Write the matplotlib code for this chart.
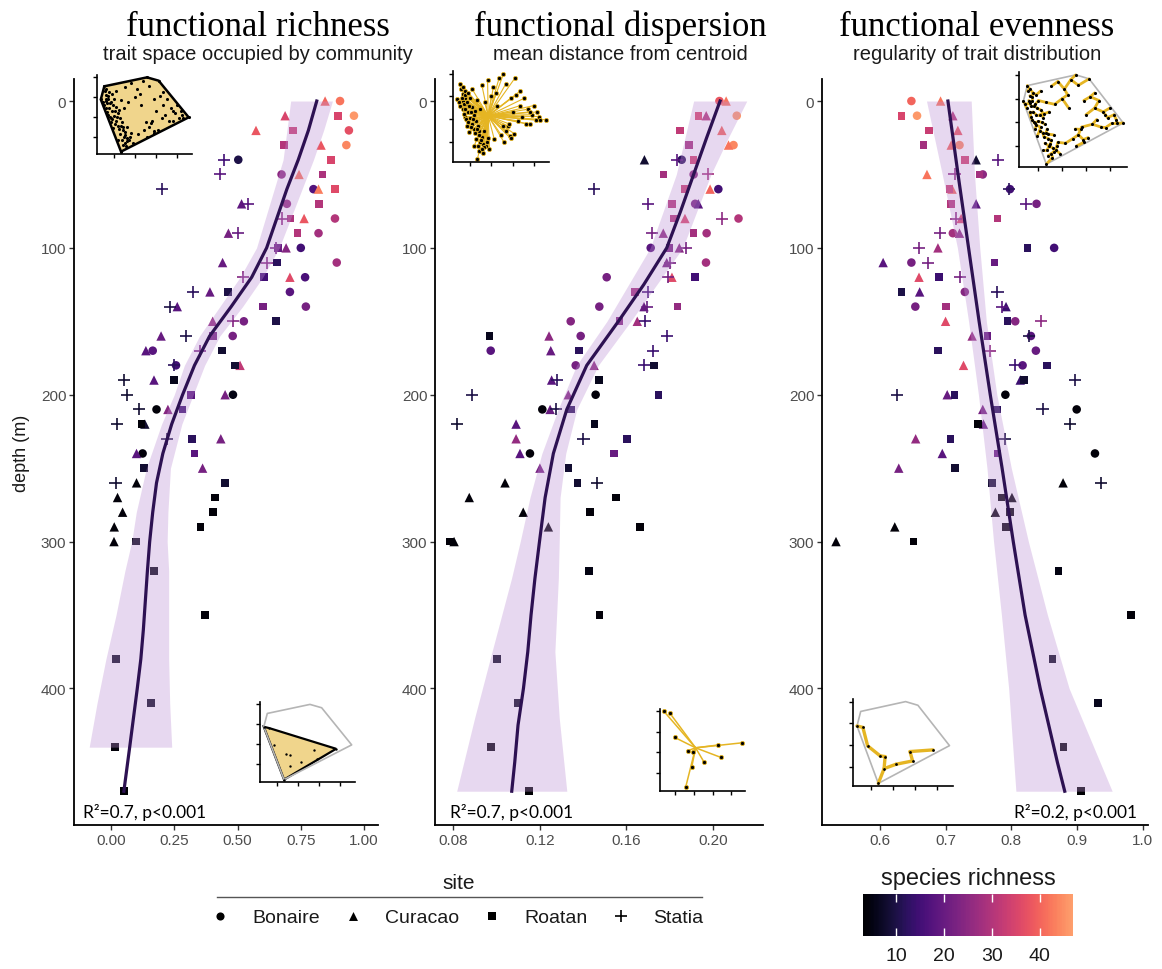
import numpy as np
import matplotlib
matplotlib.use("Agg")
import matplotlib.pyplot as plt
from matplotlib.colors import ListedColormap, Normalize
from matplotlib.cm import ScalarMappable

plt.rcParams["font.family"] = ["Liberation Sans", "DejaVu Sans"]

# ---------------- survey data ----------------
# one row per sampled depth (m); each row lists the sites sampled there
depth_rows = [0, 10, 20, 30, 40, 50, 60, 70, 80, 90, 100, 110, 120, 130, 140,
              150, 160, 170, 180, 190, 200, 210, 220, 230, 240, 250, 260, 270,
              280, 290, 300, 320, 350, 380, 410, 440, 470]

# functional richness
fric_site = ["CB", "CRB", "CRB", "RCB", "SBR", "SBCR", "SBCR", "CSBR", "SRCB",
             "CSRB", "SRCB", "CSRB", "SRCB", "SCRB", "SCRB", "CSBR", "CSRB",
             "CBSR", "SBRC", "SCR", "SRCB", "SBCR", "SRC", "SRC", "CBR", "RC",
             "SCR", "CR", "CR", "CR", "CR", "R", "R", "R", "R", "R", "R"]
fric_val = [[.846, .905], [.688, .898, .960], [.573, .720, .940], [.684, .830, .930],
            [.448, .503, .870], [.431, .674, .743, .836], [.203, .800, .820, .885],
            [.516, .543, .695, .822], [.674, .710, .763, .885], [.464, .500, .737, .820],
            [.652, .660, .692, .750], [.441, .615, .655, .892], [.523, .604, .707, .767],
            [.325, .391, .463, .707], [.233, .262, .600, .770], [.402, .483, .525, .651],
            [.198, .296, .404, .481], [.138, .165, .352, .439], [.249, .257, .490, .510],
            [.053, .170, .249], [.065, .316, .451, .482], [.110, .180, .225, .283],
            [.025, .121, .134], [.220, .319, .434], [.101, .125, .330], [.130, .362],
            [.018, .101, .451], [.026, .411], [.046, .402], [.013, .354], [.012, .099],
            [.171], [.372], [.020], [.158], [.016], [.051]]
fric_rich = [[40, 42], [35, 35, 46], [38, 33, 37], [30, 38, 44], [15, 10, 35],
             [18, 25, 42, 29], [12, 17, 43, 36], [19, 18, 26, 30], [25, 29, 38, 30],
             [22, 20, 30, 28], [22, 20, 24, 15], [20, 24, 12, 28], [24, 15, 36, 16],
             [12, 20, 10, 18], [10, 18, 22, 22], [26, 24, 22, 10], [20, 10, 22, 22],
             [18, 18, 22, 8], [12, 15, 8, 32], [8, 18, 6], [8, 18, 22, 5], [8, 4, 24, 14],
             [8, 4, 8], [10, 12, 22], [18, 4, 18], [8, 22], [8, 4, 8], [4, 4], [4, 4],
             [4, 4], [4, 5], [5], [4], [6], [6], [4], [3]]

# functional dispersion
fdis_site = ["BC", "RCB", "RC", "RCB", "CSBR", "RBS", "SRCB", "SRBC", "RCSB",
             "SCRB", "BRCS", "CSB", "BSCR", "RS", "BCSR", "BRCS", "RCBS", "BCRS",
             "BCSR", "CSR", "SCBR", "BCSR", "SCR", "CSR", "CBR", "CR", "CRS", "CR",
             "CR", "CR", "RC", "R", "R", "R", "R", "R", "R"]
fdis_val = [[.2029, .2060], [.1932, .1968, .2109], [.1848, .2040], [.1888, .2071, .2094],
            [.1683, .1832, .1855, .1909], [.1771, .1910, .1978],
            [.1450, .1870, .1986, .2024], [.1701, .1809, .1917, .1932],
            [.1820, .1870, .2040, .2117], [.1717, .1770, .1910, .1970],
            [.1712, .1798, .1844, .1875], [.1786, .1801, .1967],
            [.1509, .1794, .1810, .1917], [.1640, .1700], [.1475, .1681, .1697, .1835],
            [.1343, .1568, .1650, .1686], [.0968, .1243, .1389, .1789],
            [.0974, .1251, .1381, .1722], [.1366, .1451, .1679, .1728],
            [.1255, .1278, .1474], [.0889, .1332, .1458, .1748],
            [.1212, .1248, .1275, .1343], [.0817, .1091, .1452], [.1091, .1402, .1602],
            [.1109, .1155, .1543], [.1201, .1332], [.1040, .1375, .1463], [.0875, .1551],
            [.1124, .1432], [.1240, .1663], [.0786, .0805], [.1428], [.1475], [.1002],
            [.1101], [.0974], [.1151]]
fdis_rich = [[38, 42], [35, 30, 46], [32, 40], [28, 42, 44], [8, 18, 12, 34], [28, 25, 28],
             [12, 33, 40, 15], [18, 30, 22, 18], [30, 35, 25, 30], [22, 25, 28, 28],
             [18, 22, 24, 22], [22, 22, 28], [22, 22, 36, 15], [28, 15], [22, 20, 20, 26],
             [24, 24, 28, 14], [6, 25, 22, 14], [18, 20, 12, 14], [22, 25, 14, 8],
             [18, 12, 6], [10, 24, 4, 12], [4, 20, 10, 12], [8, 18, 6], [26, 10, 12],
             [18, 4, 20], [22, 8], [4, 8, 8], [4, 4], [4, 4], [4, 4], [4, 4], [5], [4],
             [6], [6], [4], [3]]

# functional evenness
feve_site = ["BC", "RBC", "RC", "RCB", "RCS", "CSRB", "RCSB", "RCSB", "SCR", "SBC",
             "SCRB", "CBSR", "CRS", "RCBS", "BRSC", "CRBS", "CRSB", "RSB", "CSBR",
             "CRS", "SCRB", "CRSB", "RCS", "CRS", "CRB", "CR", "RCS", "RC", "CR",
             "CR", "CR", "R", "R", "R", "R", "R", "R"]
feve_val = [[.6480, .6924], [.6329, .6566, .7111], [.6747, .7187], [.6667, .7086, .7212],
            [.7298, .7465, .7803], [.6717, .7136, .7515, .7566],
            [.7061, .7100, .7960, .7980], [.7086, .7465, .8222, .8384],
            [.7152, .7237, .7793], [.6920, .7111, .7212], [.6596, .6884, .8247, .8652],
            [.6050, .6480, .6732, .7742], [.6596, .6900, .7222],
            [.6330, .6606, .7293, .7790], [.6540, .7010, .7859, .7920],
            [.7000, .7944, .8060, .8450], [.7404, .7640, .8263, .8298],
            [.6884, .7680, .8374], [.7273, .8056, .8172, .8540], [.8136, .8197, .8965],
            [.6268, .7025, .7136, .7910], [.7566, .7778, .8475, .8995],
            [.7490, .7576, .8890], [.6545, .7076, .7910], [.6950, .7793, .9273],
            [.6288, .7141], [.7702, .8788, .9369], [.7853, .8010], [.7758, .7980],
            [.6227, .7920], [.5333, .6515], [.8717], [.9820], [.8626], [.9323], [.8793],
            [.9056]]
feve_rich = [[40, 42], [35, 46, 30], [33, 38], [28, 40, 44], [34, 8, 18], [42, 25, 28, 25],
             [33, 40, 12, 15], [30, 18, 18, 22], [25, 35, 30], [22, 28, 25],
             [22, 28, 12, 15], [18, 22, 22, 20], [36, 14, 22], [10, 18, 24, 12],
             [22, 28, 18, 14], [36, 12, 24, 25], [26, 20, 10, 18], [12, 25, 20],
             [36, 14, 18, 12], [14, 8, 10], [10, 20, 12, 4], [22, 12, 10, 4], [4, 20, 8],
             [26, 12, 10], [18, 20, 4], [22, 8], [8, 4, 8], [4, 4], [4, 4], [4, 4], [4, 4],
             [5], [4], [6], [6], [4], [3]]

# smoothed fits (value along depth) and their confidence bands
fric_fit_depth = [0, 20, 40, 60, 80, 100, 120, 140, 160, 180, 200, 220, 240, 260,
                  280, 300, 320, 340, 360, 380, 400, 420, 440, 470]
fric_fit = [0.813, 0.780, 0.740, 0.695, 0.655, 0.615, 0.556, 0.475, 0.390, 0.330,
            0.283, 0.240, 0.205, 0.180, 0.165, 0.153, 0.144, 0.136, 0.128, 0.118,
            0.104, 0.089, 0.074, 0.051]
fric_band_depth = [0, 20, 40, 60, 80, 100, 120, 140, 160, 180, 200, 220, 250, 280,
                   300, 320, 350, 380, 410, 440]
fric_lo = [0.710, 0.695, 0.680, 0.645, 0.610, 0.575, 0.510, 0.430, 0.350, 0.290,
           0.250, 0.200, 0.140, 0.100, 0.082, 0.055, 0.020, -0.020, -0.055, -0.086]
fric_hi = [0.875, 0.840, 0.800, 0.755, 0.710, 0.665, 0.600, 0.520, 0.430, 0.370,
           0.325, 0.280, 0.235, 0.225, 0.222, 0.228, 0.228, 0.228, 0.232, 0.240]

fdis_fit_depth = [0, 25, 50, 75, 100, 125, 150, 180, 210, 240, 270, 300, 325, 350,
                  375, 400, 425, 450, 470]
fdis_fit = [0.2032, 0.1970, 0.1910, 0.1850, 0.1786, 0.1680, 0.1563, 0.1417, 0.1325,
            0.1263, 0.1225, 0.1199, 0.1178, 0.1160, 0.1145, 0.1125, 0.1100, 0.1085,
            0.1071]
fdis_band_depth = [0, 25, 50, 100, 150, 180, 210, 240, 270, 300, 325, 375, 420, 470]
fdis_lo = [0.1910, 0.1870, 0.1830, 0.1710, 0.1510, 0.1370, 0.1285, 0.1210, 0.1155,
           0.1110, 0.1070, 0.0980, 0.0900, 0.0817]
fdis_hi = [0.2155, 0.2070, 0.1990, 0.1860, 0.1620, 0.1470, 0.1371, 0.1320, 0.1294,
           0.1290, 0.1286, 0.1270, 0.1290, 0.1325]

feve_fit_depth = [0, 50, 100, 150, 200, 250, 300, 350, 400, 450, 470]
feve_fit = [0.7036, 0.719, 0.735, 0.751, 0.768, 0.786, 0.803, 0.821, 0.844, 0.870, 0.8813]
feve_band_depth = [0, 50, 100, 150, 200, 250, 300, 350, 400, 470]
feve_lo = [0.671, 0.695, 0.718, 0.735, 0.750, 0.763, 0.773, 0.785, 0.796, 0.807]
feve_hi = [0.739, 0.744, 0.752, 0.762, 0.778, 0.800, 0.826, 0.855, 0.888, 0.9535]

# trait space of the regional species pool (two ordination axes, scaled 0-1)
pool_x = [0.040, 0.077, 0.526, 0.649, 0.965, 0.253, 0.099, 0.146, 0.272, 0.321, 0.311,
          0.430, 0.570, 0.596, 0.801, 0.08, 0.10, 0.12, 0.07, 0.10, 0.14, 0.16, 0.12,
          0.18, 0.20, 0.22, 0.11, 0.15, 0.20, 0.24, 0.17, 0.22, 0.26, 0.13, 0.18, 0.25,
          0.28, 0.24, 0.28, 0.30, 0.34, 0.36, 0.27, 0.31, 0.38, 0.22, 0.50, 0.53, 0.55,
          0.60, 0.64, 0.30, 0.36, 0.42, 0.48, 0.55, 0.40, 0.33, 0.46, 0.60, 0.66, 0.70,
          0.74, 0.78, 0.82, 0.86, 0.90, 0.72, 0.68, 0.76, 0.62, 0.84, 0.91,
          0.06, 0.09, 0.11, 0.13, 0.15, 0.17, 0.19, 0.21, 0.23, 0.14, 0.16, 0.19, 0.23,
          0.25, 0.27, 0.29, 0.32, 0.35, 0.26, 0.30, 0.12, 0.16, 0.20, 0.10, 0.52, 0.58,
          0.80, 0.88, 0.70, 0.45]
pool_y = [0.690, 0.857, 0.970, 0.928, 0.464, 0.030, 0.673, 0.462, 0.346, 0.338, 0.200,
          0.250, 0.396, 0.288, 0.415, 0.80, 0.75, 0.70, 0.62, 0.58, 0.64, 0.55, 0.50,
          0.48, 0.60, 0.52, 0.53, 0.40, 0.42, 0.45, 0.33, 0.36, 0.40, 0.78, 0.70, 0.68,
          0.58, 0.25, 0.22, 0.28, 0.18, 0.26, 0.12, 0.10, 0.14, 0.18, 0.30, 0.22, 0.34,
          0.26, 0.31, 0.85, 0.90, 0.82, 0.92, 0.86, 0.72, 0.66, 0.62, 0.70, 0.74, 0.62,
          0.70, 0.58, 0.52, 0.46, 0.50, 0.50, 0.45, 0.42, 0.55, 0.62, 0.46,
          0.66, 0.70, 0.64, 0.58, 0.66, 0.62, 0.55, 0.47, 0.56, 0.47, 0.44, 0.38, 0.32,
          0.36, 0.30, 0.24, 0.16, 0.22, 0.18, 0.14, 0.74, 0.76, 0.80, 0.82, 0.40, 0.42,
          0.55, 0.55, 0.78, 0.76]
# species found in the deepest community
deep_idx = [0, 6, 7, 8, 9, 10, 5, 11, 12, 13, 14]

site_order = ["B", "C", "R", "S"]
site_label = {"B": "Bonaire", "C": "Curacao", "R": "Roatan", "S": "Statia"}
site_marker = {"B": "o", "C": "^", "R": "s", "S": "+"}
site_size = {"B": 38, "C": 46, "R": 30, "S": 75}

# ---------------- styling ----------------
cmap = ListedColormap(plt.cm.magma(np.linspace(0, 0.8, 256)))
norm = Normalize(3, 47)
band_col = "#BD90D4"
fit_col = "#2D1152"
tan = "#F0D58C"
gold = "#E5B523"
hull_grey = "#B5B5B5"

W, H = 1162, 970
fig = plt.figure(figsize=(W / 100, H / 100), dpi=100)


def px_axes(left, right, top, bottom):
    return fig.add_axes([left / W, 1 - bottom / H, (right - left) / W, (bottom - top) / H])


def flatten(rows, site, val, rich):
    d, s, v, r = [], [], [], []
    for depth, ss, vv, rr in zip(rows, site, val, rich):
        for a, b, c in zip(ss, vv, rr):
            d.append(depth); s.append(a); v.append(b); r.append(c)
    return np.array(d), np.array(s), np.array(v), np.array(r)


def draw_panel(ax, site, val, rich, fit_d, fit_v, band_d, lo, hi, xlim, xticks, xlabels):
    d, s, v, r = flatten(depth_rows, site, val, rich)
    for code in site_order:
        m = s == code
        ax.scatter(v[m], d[m], c=r[m], cmap=cmap, norm=norm, marker=site_marker[code],
                   s=site_size[code], linewidths=1.2 if code == "S" else 0, zorder=2)
    ax.fill_betweenx(band_d, lo, hi, color=band_col, alpha=0.35, lw=0, zorder=3)
    ax.plot(fit_v, fit_d, color=fit_col, lw=2.3, zorder=4)
    ax.set_xlim(*xlim)
    ax.set_ylim(493, -15)
    ax.set_xticks(xticks)
    ax.set_xticklabels(xlabels)
    ax.set_yticks([0, 100, 200, 300, 400])
    for sp in ["top", "right"]:
        ax.spines[sp].set_visible(False)
    for sp in ["left", "bottom"]:
        ax.spines[sp].set_linewidth(1.3)
    ax.tick_params(length=3.5, width=1, color="#333333", labelsize=11,
                   labelcolor="#4D4D4D", pad=2)


ax1 = px_axes(74, 378, 80, 826)
draw_panel(ax1, fric_site, fric_val, fric_rich, fric_fit_depth, fric_fit,
           fric_band_depth, fric_lo, fric_hi, (-0.146, 1.055),
           [0, 0.25, 0.5, 0.75, 1.0], ["0.00", "0.25", "0.50", "0.75", "1.00"])
ax2 = px_axes(435, 763, 80, 826)
draw_panel(ax2, fdis_site, fdis_val, fdis_rich, fdis_fit_depth, fdis_fit,
           fdis_band_depth, fdis_lo, fdis_hi, (0.0717, 0.223),
           [0.08, 0.12, 0.16, 0.20], ["0.08", "0.12", "0.16", "0.20"])
ax3 = px_axes(822, 1148, 80, 826)
draw_panel(ax3, feve_site, feve_val, feve_rich, feve_fit_depth, feve_fit,
           feve_band_depth, feve_lo, feve_hi, (0.512, 1.008),
           [0.6, 0.7, 0.8, 0.9, 1.0], ["0.6", "0.7", "0.8", "0.9", "1.0"])

# ---------------- trait-space insets ----------------
pool = np.column_stack([pool_x, pool_y])
deep = pool[deep_idx]


def convex_hull(pts):
    p = sorted(map(tuple, pts))

    def cross(o, a, b):
        return (a[0] - o[0]) * (b[1] - o[1]) - (a[1] - o[1]) * (b[0] - o[0])
    lower, upper = [], []
    for q in p:
        while len(lower) >= 2 and cross(lower[-2], lower[-1], q) <= 0:
            lower.pop()
        lower.append(q)
    for q in reversed(p):
        while len(upper) >= 2 and cross(upper[-2], upper[-1], q) <= 0:
            upper.pop()
        upper.append(q)
    h = np.array(lower[:-1] + upper[:-1])
    return np.vstack([h, h[:1]])


def mst_edges(pts):
    n = len(pts)
    dist = np.hypot(pts[:, None, 0] - pts[None, :, 0], pts[:, None, 1] - pts[None, :, 1])
    inside = np.zeros(n, bool)
    inside[0] = True
    best = dist[0].copy()
    parent = np.zeros(n, int)
    edges = []
    for _ in range(n - 1):
        j = np.argmin(np.where(inside, np.inf, best))
        edges.append((parent[j], j))
        inside[j] = True
        closer = dist[j] < best
        parent[closer] = j
        best = np.minimum(best, dist[j])
    return edges


def inset(left, right, top, bottom, xlim=(0, 1), ylim=(0, 1)):
    ax = px_axes(left, right, top, bottom)
    ax.patch.set_alpha(0)
    ax.set_xlim(*xlim)
    ax.set_ylim(*ylim)
    for sp in ["top", "right"]:
        ax.spines[sp].set_visible(False)
    for sp in ["left", "bottom"]:
        ax.spines[sp].set_linewidth(1.2)
    fx = [0.18, 0.40, 0.62, 0.84]
    fy = [0.22, 0.47, 0.72, 0.97]
    ax.set_xticks([xlim[0] + f * (xlim[1] - xlim[0]) for f in fx])
    ax.set_yticks([ylim[0] + f * (ylim[1] - ylim[0]) for f in fy])
    ax.tick_params(length=3, width=1, labelbottom=False, labelleft=False)
    return ax


# richness: volume of the convex hull
hull = convex_hull(pool)
a = inset(97, 192, 76, 155)
a.fill(hull[:, 0], hull[:, 1], facecolor=tan, edgecolor="black", lw=1.8, zorder=1)
a.scatter(pool[:, 0], pool[:, 1], s=5, color="black", lw=0, zorder=2)

dhull = convex_hull(deep)
a = inset(260, 355, 703, 783)
a.plot(hull[:, 0], hull[:, 1], color=hull_grey, lw=1.2)
a.fill(dhull[:, 0], dhull[:, 1], facecolor=tan, edgecolor="black", lw=1.6)
a.scatter(deep[:, 0], deep[:, 1], s=3, color="black", lw=0, zorder=3)

# dispersion: distance to the centroid
a = inset(453, 549, 72, 163)
c = pool.mean(axis=0)
for p in pool:
    a.plot([c[0], p[0]], [c[1], p[1]], color=gold, lw=0.8, zorder=1)
a.scatter(pool[:, 0], pool[:, 1], s=9, color="black", edgecolors=gold, lw=0.6, zorder=2)

a = inset(660, 745, 710, 792, xlim=(0.001, 0.833), ylim=(-0.006, 0.711))
c = deep.mean(axis=0)
for p in deep:
    a.plot([c[0], p[0]], [c[1], p[1]], color=gold, lw=1.1, zorder=1)
a.scatter(deep[:, 0], deep[:, 1], s=9, color="black", edgecolors=gold, lw=0.6, zorder=2)

# evenness: minimum spanning tree
a = inset(1019, 1127, 73, 168)
a.plot(hull[:, 0], hull[:, 1], color=hull_grey, lw=1.2)
for i, j in mst_edges(pool):
    a.plot(pool[[i, j], 0], pool[[i, j], 1], color=gold, lw=2.0, solid_capstyle="round")
a.scatter(pool[:, 0], pool[:, 1], s=5, color="black", lw=0, zorder=3)

a = inset(853, 953, 700, 787)
a.plot(hull[:, 0], hull[:, 1], color=hull_grey, lw=1.2)
for i, j in mst_edges(deep):
    a.plot(deep[[i, j], 0], deep[[i, j], 1], color=gold, lw=2.4, solid_capstyle="round")
a.scatter(deep[:, 0], deep[:, 1], s=4, color="black", lw=0, zorder=3)

# ---------------- titles and annotations ----------------
titles = [("functional richness", "trait space occupied by community", 258),
          ("functional dispersion", "mean distance from centroid", 620),
          ("functional evenness", "regularity of trait distribution", 977)]
for title, sub, x in titles:
    fig.text(x / W, 1 - 36 / H, title, ha="center", va="baseline", fontsize=25,
             family=["Liberation Serif", "DejaVu Serif"])
    fig.text(x / W, 1 - 60 / H, sub, ha="center", va="baseline", fontsize=14.5,
             color="#1A1A1A")

fig.text(22 / W, 1 - 453 / H, "depth (m)", rotation=90, ha="center", va="center",
         fontsize=13, color="#1A1A1A")

stat_font = ["Lato", "DejaVu Sans"]
fig.text(83 / W, 1 - 818 / H, "R²=0.7, p<0.001", ha="left", va="baseline",
         fontsize=12.5, family=stat_font)
fig.text(450 / W, 1 - 818 / H, "R²=0.7, p<0.001", ha="left", va="baseline",
         fontsize=12.5, family=stat_font)
fig.text(1137 / W, 1 - 818 / H, "R²=0.2, p<0.001", ha="right", va="baseline",
         fontsize=12.5, family=stat_font)

# ---------------- site legend ----------------
lay = fig.add_axes([0, 0, 1, 1])
lay.set_xlim(0, W)
lay.set_ylim(H, 0)
lay.axis("off")
lay.text(459, 889, "site", ha="center", va="baseline", fontsize=15, color="#1A1A1A")
lay.plot([217, 702], [898, 898], color="#555555", lw=1)
for code, x in zip(site_order, [220, 353, 492, 621]):
    lay.scatter([x], [917], marker=site_marker[code], s=site_size[code] * 0.9,
                color="black", linewidths=1.2 if code == "S" else 0)
    lay.text(x + 32, 923, site_label[code], ha="left", va="baseline", fontsize=14,
             color="#1A1A1A")

# ---------------- colour bar ----------------
cax = px_axes(863, 1073, 895, 937)
cb = fig.colorbar(ScalarMappable(norm=norm, cmap=cmap), cax=cax, orientation="horizontal")
cb.outline.set_visible(False)
cb.set_ticks([10, 20, 30, 40])
cax.xaxis.set_ticks_position("both")
cax.tick_params(direction="in", length=5.5, width=1, color="white", labelsize=14,
                labelcolor="#1A1A1A", pad=8)
fig.text(968 / W, 1 - 885 / H, "species richness", ha="center", va="baseline",
         fontsize=17, color="#1A1A1A")

fig.savefig("out.png", dpi=100)
